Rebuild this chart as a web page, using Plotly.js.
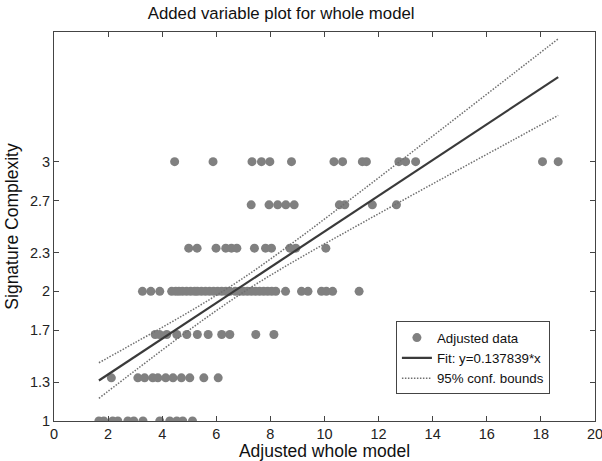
<!DOCTYPE html>
<html>
<head>
<meta charset="utf-8">
<script src="https://cdn.plot.ly/plotly-3.0.1.min.js"></script>
<style>html,body{margin:0;padding:0;background:#fff;}#chart{width:602px;height:461px;}</style>
</head>
<body>
<div id="chart"></div>
<script>
// Adjusted data, grouped by level of Signature Complexity
var levels = [3, 2.667, 2.333, 2, 1.667, 1.333, 1];
var row3    = [4.46, 5.88, 7.32, 7.67, 7.98, 8.78, 10.35, 10.67, 11.4, 11.55, 12.75, 13.0, 13.37, 18.06, 18.64];
var row2_67 = [7.29, 7.95, 8.27, 8.57, 8.88, 10.55, 10.75, 11.77, 12.66];
var row2_33 = [4.98, 5.29, 5.99, 6.35, 6.56, 6.76, 7.41, 7.82, 8.04, 8.72, 8.94, 10.05];
var row2    = [3.27, 3.58, 3.91, 4.35, 4.5, 4.62, 4.75, 4.9, 5.05, 5.2, 5.3, 5.45, 5.6, 5.75, 5.9, 6.05, 6.2, 6.35, 6.5, 6.7, 6.85, 7.0, 7.15, 7.3, 7.45, 7.6, 7.75, 7.9, 8.05, 8.2, 8.56, 9.15, 9.39, 9.89, 10.07, 10.3, 11.28];
var row1_67 = [3.74, 3.9, 4.17, 4.54, 4.91, 5.3, 5.7, 6.2, 6.5, 7.46, 8.13];
var row1_33 = [2.12, 3.1, 3.35, 3.65, 3.84, 4.13, 4.4, 4.71, 5.02, 5.54, 6.07];
var row1    = [1.66, 1.84, 2.17, 2.36, 2.73, 2.95, 3.29, 3.91, 4.28, 4.54, 4.76, 5.12];

// Fit line and 95% confidence bounds
var fitX = [1.66, 18.64];
var fitY = [1.312, 3.652];
var boundX = [1.66, 3, 5, 7, 9, 11, 13, 15, 17, 18.64];
var upperY = [1.449, 1.605, 1.842, 2.103, 2.401, 2.716, 3.036, 3.359, 3.682, 3.947];
var lowerY = [1.175, 1.389, 1.702, 1.993, 2.247, 2.482, 2.714, 2.943, 3.170, 3.357];

var yTickVals = [1, 1.3, 1.7, 2, 2.3, 2.7, 3];
var yTickText = ["1", "1.3", "1.7", "2", "2.3", "2.7", "3"];
var xTickVals = [0, 2, 4, 6, 8, 10, 12, 14, 16, 18, 20];

var rows = [row3, row2_67, row2_33, row2, row1_67, row1_33, row1];
var dataX = [], dataY = [];
rows.forEach(function (r, i) {
  r.forEach(function (v) { dataX.push(v); dataY.push(levels[i]); });
});

var font = "Arial, 'Liberation Sans', sans-serif";
var traces = [
  {x: dataX, y: dataY, mode: 'markers', type: 'scatter', name: 'Adjusted data',
   marker: {color: '#808080', size: 9}},
  {x: fitX, y: fitY, mode: 'lines', type: 'scatter', name: 'Fit: y=0.137839*x',
   line: {color: '#3a3a3a', width: 2.2}},
  {x: boundX, y: upperY, mode: 'lines', type: 'scatter', name: '95% conf. bounds',
   line: {color: '#707070', width: 1.5, dash: '1.5px,1.5px', shape: 'spline'}},
  {x: boundX, y: lowerY, mode: 'lines', type: 'scatter', name: '95% conf. bounds', showlegend: false,
   line: {color: '#707070', width: 1.5, dash: '1.5px,1.5px', shape: 'spline'}}
];

var axisCommon = {
  showline: true, linecolor: '#444', linewidth: 1, mirror: 'ticks',
  ticks: 'inside', ticklen: 5, tickcolor: '#444', showgrid: false, zeroline: false,
  ticklabeloverflow: 'allow',
  tickfont: {family: font, size: 14.5, color: '#222'}
};

var layout = {
  width: 602, height: 461,
  margin: {l: 54, r: 7, t: 32, b: 40},
  paper_bgcolor: '#fff', plot_bgcolor: '#fff',
  title: {text: 'Added variable plot for whole model', x: 0.467, xanchor: 'center', y: 0.985, yanchor: 'top',
          font: {family: font, size: 16.8, color: '#111'}},
  xaxis: Object.assign({}, axisCommon, {
    range: [0, 20.001], tickvals: xTickVals,
    title: {text: 'Adjusted whole model', font: {family: font, size: 17.5, color: '#111'}, standoff: 2}
  }),
  yaxis: Object.assign({}, axisCommon, {
    range: [1, 4], tickvals: yTickVals, ticktext: yTickText,
    title: {text: 'Signature Complexity', font: {family: font, size: 17.5, color: '#111'}, standoff: 6}
  }),
  showlegend: true,
  legend: {x: 0.632, y: 0.256, xanchor: 'left', yanchor: 'top',
           bgcolor: '#fff', bordercolor: '#444', borderwidth: 1,
           font: {family: font, size: 13.3, color: '#111'}, itemwidth: 30, tracegroupgap: 0}
};

Plotly.newPlot('chart', traces, layout, {displayModeBar: false, staticPlot: true});
</script>
</body>
</html>
